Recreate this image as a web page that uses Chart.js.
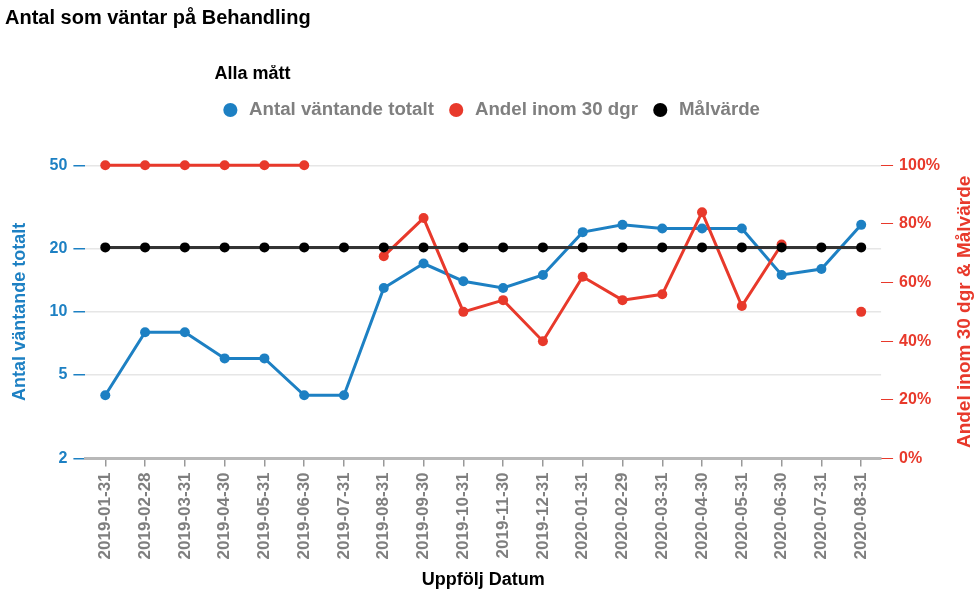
<!DOCTYPE html>
<html>
<head>
<meta charset="utf-8">
<script src="https://cdn.jsdelivr.net/npm/chart.js@4.4.1/dist/chart.umd.min.js"></script>
<style>
  body { margin: 0; background: #fff; }
  #wrap { width: 976px; height: 592px; position: relative; }
</style>
</head>
<body>
<div id="wrap"><canvas id="line-chart"></canvas></div>
<script>
// data
const dates = ["2019-01-31","2019-02-28","2019-03-31","2019-04-30","2019-05-31","2019-06-30","2019-07-31","2019-08-31","2019-09-30","2019-10-31","2019-11-30","2019-12-31","2020-01-31","2020-02-29","2020-03-31","2020-04-30","2020-05-31","2020-06-30","2020-07-31","2020-08-31"];
const antalVantande = [4, 8, 8, 6, 6, 4, 4, 13, 17, 14, 13, 15, 24, 26, 25, 25, 25, 15, 16, 26];
const andelInom30 = [100, 100, 100, 100, 100, 100, null, 69, 82, 50, 54, 40, 62, 54, 56, 84, 52, 73, null, 50];
const malvarde = [72, 72, 72, 72, 72, 72, 72, 72, 72, 72, 72, 72, 72, 72, 72, 72, 72, 72, 72, 72];
const leftTicks = [2, 5, 10, 20, 50];

const blue = "#1d80c3";
const red = "#e8392b";
const grey = "#7f7f7f";
const fontFam = '"Liberation Sans", Arial, sans-serif';

//____________________________________________________________

// push the plot down a bit below the legend
const legendSpacer = {
  id: "legendSpacer",
  beforeInit(chart) {
    const origFit = chart.legend.fit;
    chart.legend.fit = function () {
      origFit.bind(chart.legend)();
      this.height += 36;
    };
  }
};

// right axis title, reading bottom to top like the left one
const rightTitle = {
  id: "rightTitle",
  afterDraw(chart) {
    const ctx = chart.ctx;
    const s = chart.scales.y1;
    const ca = chart.chartArea;
    ctx.save();
    ctx.translate(s.right - 11, (ca.top + ca.bottom) / 2);
    ctx.rotate(-Math.PI / 2);
    ctx.font = "bold 19px " + fontFam;
    ctx.fillStyle = red;
    ctx.textAlign = "center";
    ctx.textBaseline = "middle";
    ctx.fillText("Andel inom 30 dgr & Målvärde", 0, 0);
    ctx.restore();
  }
};

Chart.defaults.font.family = fontFam;

new Chart(document.getElementById("line-chart"), {
  type: "line",
  data: {
    labels: dates,
    datasets: [{
      label: "Antal väntande totalt",
      data: antalVantande,
      yAxisID: "y",
      borderColor: blue,
      backgroundColor: blue,
      borderWidth: 3,
      pointRadius: 5,
      pointBorderWidth: 0,
      clip: false,
      order: 2
    }, {
      label: "Andel inom 30 dgr",
      data: andelInom30,
      yAxisID: "y1",
      borderColor: red,
      backgroundColor: red,
      borderWidth: 3,
      pointRadius: 5,
      pointBorderWidth: 0,
      spanGaps: false,
      clip: false,
      order: 1
    }, {
      label: "Målvärde",
      data: malvarde,
      yAxisID: "y1",
      borderColor: "#333",
      backgroundColor: "#000",
      borderWidth: 3,
      pointRadius: 5,
      pointBorderWidth: 0,
      clip: false,
      order: 0
    }]
  },
  options: {
    responsive: true,
    maintainAspectRatio: false,
    animation: false,
    layout: { padding: { left: 5, right: 0, top: 0, bottom: 0 } },
    plugins: {
      tooltip: { enabled: false },
      title: {
        display: true,
        text: "Antal som väntar på Behandling",
        align: "start",
        color: "#000",
        font: { size: 20, weight: "bold" },
        padding: { top: 6, bottom: 35 }
      },
      legend: {
        display: true,
        position: "top",
        align: "center",
        title: {
          display: true,
          text: "Alla mått",
          position: "start",
          color: "#000",
          font: { size: 18, weight: "bold" },
          padding: { top: 0, bottom: 1 }
        },
        labels: {
          usePointStyle: true,
          pointStyle: "circle",
          boxWidth: 20,
          boxHeight: 10,
          padding: 13,
          color: grey,
          font: { size: 18.7, weight: "bold" },
          sort: (a, b) => a.datasetIndex - b.datasetIndex
        }
      }
    },
    scales: {
      x: {
        offset: true,
        grid: { display: true, drawOnChartArea: false, tickLength: 8, tickColor: "#999", lineWidth: 1.5 },
        border: { display: true, color: "#b8b8b8", width: 3 },
        ticks: { color: grey, font: { size: 17, weight: "bold" }, minRotation: 90, maxRotation: 90, padding: 6, autoSkip: false },
        title: {
          display: true,
          text: "Uppfölj Datum",
          color: "#000",
          font: { size: 18, weight: "bold" },
          padding: { top: 4, bottom: 1 }
        }
      },
      y: {
        type: "logarithmic",
        position: "left",
        min: 2,
        max: 50,
        afterBuildTicks: scale => { scale.ticks = leftTicks.map(v => ({ value: v })); },
        grid: { color: "#e6e6e6", lineWidth: 1.5, tickColor: blue, tickLength: 12 },
        border: { display: false },
        ticks: { color: blue, font: { size: 16, weight: "bold" }, padding: 6, callback: v => String(v) },
        title: {
          display: true,
          text: "Antal väntande totalt",
          color: blue,
          font: { size: 18, weight: "bold" },
          padding: { top: 4, bottom: 13 }
        }
      },
      y1: {
        type: "linear",
        position: "right",
        min: 0,
        max: 100,
        grid: { drawOnChartArea: false, tickColor: red, tickLength: 12 },
        border: { display: false },
        ticks: { stepSize: 20, color: red, font: { size: 16, weight: "bold" }, padding: 6, callback: v => v + "%" },
        afterFit: scale => { scale.width += 30; }
      }
    }
  },
  plugins: [legendSpacer, rightTitle]
});
</script>
</body>
</html>
